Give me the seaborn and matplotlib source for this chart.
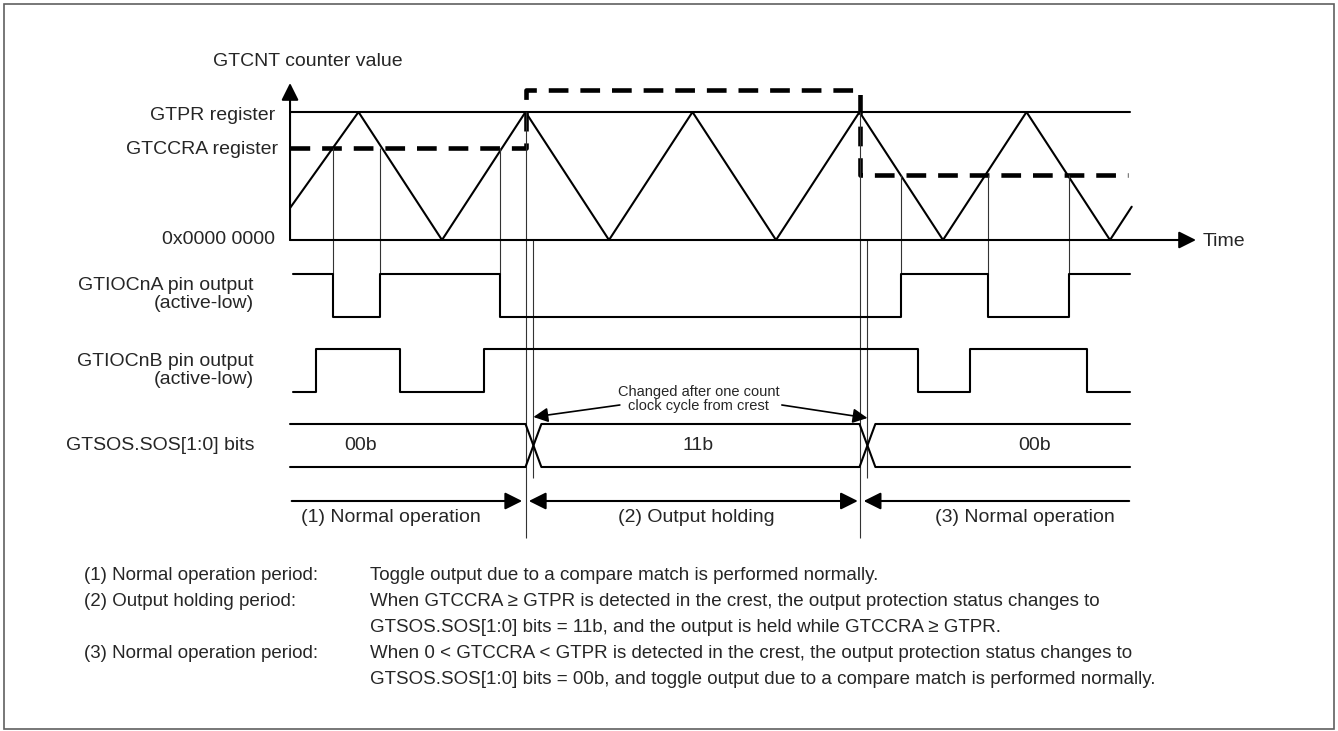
import numpy as np
import matplotlib.pyplot as plt
import seaborn as sns

### data (time in half periods of the counter)
cnt_t = [0.18, 1, 2, 3, 4, 5, 6, 7, 8, 9, 10, 10.26]
cnt_v = [0.25, 1, 0, 1, 0, 1, 0, 1, 0, 1, 0, 0.26]   # GTPR = 1

ccra_t = [0.18, 3.0, 3.0, 7.0, 7.0, 10.22]
ccra_v = [0.72, 0.72, 1.17, 1.17, 0.51, 0.51]

gtpr_v = 1.0

a_t = [0.21, 0.70, 1.26, 2.70, 7.50, 8.54, 9.51, 10.24]
a_lv = [1, 0, 1, 0, 1, 0, 1, 1]
b_t = [0.21, 0.49, 1.50, 2.50, 7.70, 8.32, 9.73, 10.24]
b_lv = [0, 1, 0, 1, 0, 1, 0, 0]

sos_t = [3.0, 7.0]
sos_vals = ["00b", "11b", "00b"]
sos_lbl_t = [1.02, 5.07, 9.10]

periods = ["(1) Normal operation", "(2) Output holding", "(3) Normal operation"]
period_lbl_t = [1.39, 5.05, 8.98]

note_left = ["(1) Normal operation period:", "(2) Output holding period:", "",
             "(3) Normal operation period:", ""]
note_right = [
    "Toggle output due to a compare match is performed normally.",
    "When GTCCRA \u2265 GTPR is detected in the crest, the output protection status changes to",
    "GTSOS.SOS[1:0] bits = 11b, and the output is held while GTCCRA \u2265 GTPR.",
    "When 0 < GTCCRA < GTPR is detected in the crest, the output protection status changes to",
    "GTSOS.SOS[1:0] bits = 00b, and toggle output due to a compare match is performed normally.",
]

### layout (pixels)
W, H = 1338, 731
X0, DX = 275, 83.5
T0, T1 = 0.18, 10.24
CNT_BASE, CNT_H = 240, 128
A_HI, A_LO = 274, 317
B_HI, B_LO = 349, 392
S_HI, S_LO = 424, 467
SOS_W = 0.19
ARR_Y = 501

sns.set_theme(style="white")
plt.rcParams['font.family'] = ['Liberation Sans', 'DejaVu Sans']

fig = plt.figure(figsize=(W / 100, H / 100), dpi=100)
ax = fig.add_axes([0, 0, 1, 1])
ax.set_xlim(-X0 / DX, (W - X0) / DX)
ax.set_ylim(H, 0)
ax.axis('off')
axt = fig.add_axes([0, 0, 1, 1], facecolor='none')
axt.set_xlim(0, W)
axt.set_ylim(H, 0)
axt.axis('off')

def cy(v):
    return CNT_BASE - CNT_H * np.asarray(v, dtype=float)

# frame
axt.add_patch(plt.Rectangle((4, 4), W - 8, H - 6, fill=False, ec='#606060', lw=1.2))

# counter, GTPR and GTCCRA
sns.lineplot(x=cnt_t, y=cy(cnt_v), ax=ax, color='black', lw=1.5, sort=False, estimator=None)
sns.lineplot(x=[T0, T1], y=cy([gtpr_v, gtpr_v]), ax=ax, color='black', lw=1.5,
             sort=False, estimator=None)
sns.lineplot(x=ccra_t, y=cy(ccra_v), ax=ax, color='black', lw=3.3, sort=False,
             estimator=None, linestyle=(0, (4.3, 2.6)))

# axes arrows
hs = dict(arrowstyle='-|>,head_length=0.4,head_width=0.2', color='black', lw=1.5,
          mutation_scale=26, shrinkA=0, shrinkB=0)
ax.annotate('', xy=(T0, 83), xytext=(T0, CNT_BASE), arrowprops=hs)
ax.annotate('', xy=((1196 - X0) / DX, CNT_BASE), xytext=(T0, CNT_BASE), arrowprops=hs)

# compare match guide lines
a_edges = np.array(a_t[1:-1])
lv = np.interp(a_edges, ccra_t, ccra_v)
ax.vlines(a_edges, cy(lv), A_HI, color='#333333', lw=0.8)
ax.vlines(sos_t, cy([1, 1]), 538, color='#333333', lw=0.8)
ax.vlines(np.array(sos_t) + SOS_W / 2, CNT_BASE, 478, color='#333333', lw=0.8)

# pin outputs
for t, l, hi, lo in [(a_t, a_lv, A_HI, A_LO), (b_t, b_lv, B_HI, B_LO)]:
    y = lo - (lo - hi) * np.array(l)
    sns.lineplot(x=t, y=y, ax=ax, color='black', lw=1.5, sort=False, estimator=None,
                 drawstyle='steps-post')

# SOS bus
xs = [T0]
for s in sos_t:
    xs += [s, s + SOS_W]
xs.append(T1)
top, bot = [S_HI], [S_LO]
for i in range(len(sos_t)):
    a, b = (S_HI, S_LO) if i % 2 == 0 else (S_LO, S_HI)
    top += [a, b]
    bot += [b, a]
top.append(top[-1])
bot.append(bot[-1])
sns.lineplot(x=xs, y=top, ax=ax, color='black', lw=1.5, sort=False, estimator=None)
sns.lineplot(x=xs, y=bot, ax=ax, color='black', lw=1.5, sort=False, estimator=None)
for t, s in zip(sos_lbl_t, sos_vals):
    ax.text(t, (S_HI + S_LO) / 2, s, ha='center', va='center', fontsize=14)

# annotation
ann = dict(arrowstyle='-|>,head_length=0.4,head_width=0.2', color='black', lw=1.2,
           mutation_scale=22, shrinkA=0, shrinkB=0)
ax.annotate('', xy=(sos_t[0] + SOS_W / 2, 417), xytext=(4.13, 405), arrowprops=ann)
ax.annotate('', xy=(sos_t[1] + SOS_W / 2, 418), xytext=(6.07, 405), arrowprops=ann)
ax.text(5.07, 392, "Changed after one count", ha='center', va='center', fontsize=10.5)
ax.text(5.07, 406, "clock cycle from crest", ha='center', va='center', fontsize=10.5)

# period arrows
one = dict(hs, lw=1.5)
two = dict(one, arrowstyle='<|-|>,head_length=0.4,head_width=0.2')
ax.annotate('', xy=(sos_t[0] - 0.04, ARR_Y), xytext=(T0 + 0.02, ARR_Y), arrowprops=one)
ax.annotate('', xy=(sos_t[0] + 0.04, ARR_Y), xytext=(sos_t[1] - 0.02, ARR_Y), arrowprops=two)
ax.annotate('', xy=(sos_t[1] + 0.05, ARR_Y), xytext=(T1 - 0.01, ARR_Y), arrowprops=one)
for t, s in zip(period_lbl_t, periods):
    ax.text(t, 517, s, ha='center', va='center', fontsize=14)

# row labels
axt.text(308, 62, "GTCNT counter value", ha='center', va='center', fontsize=14)
axt.text(275, 115, "GTPR register", ha='right', va='center', fontsize=14)
axt.text(278, 149, "GTCCRA register", ha='right', va='center', fontsize=14)
axt.text(275, 240, "0x0000 0000", ha='right', va='center', fontsize=14)
axt.text(1203, 241, "Time", ha='left', va='center', fontsize=14)
axt.text(254, 286, "GTIOCnA pin output", ha='right', va='center', fontsize=14)
axt.text(254, 304, "(active-low)", ha='right', va='center', fontsize=14)
axt.text(254, 361, "GTIOCnB pin output", ha='right', va='center', fontsize=14)
axt.text(254, 379, "(active-low)", ha='right', va='center', fontsize=14)
axt.text(254, 446, "GTSOS.SOS[1:0] bits", ha='right', va='center', fontsize=14)

# notes
for i, (l, r) in enumerate(zip(note_left, note_right)):
    y = 575 + 26 * i
    axt.text(84, y, l, ha='left', va='center', fontsize=13.5)
    axt.text(370, y, r, ha='left', va='center', fontsize=13.5)

fig.savefig("out.png", dpi=100)
